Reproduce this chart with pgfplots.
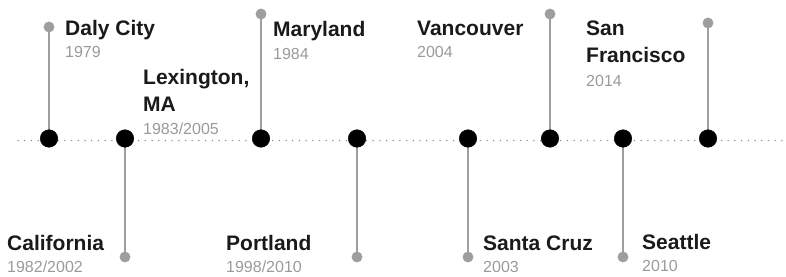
\documentclass[border=0pt]{standalone}
\usepackage{fontspec}
\setmainfont{Liberation Sans}
\usepackage{pgfplots}
\pgfplotsset{compat=1.18}
\definecolor{stemc}{HTML}{9E9E9E}
\definecolor{yrc}{HTML}{9A9A9A}
\definecolor{basec}{HTML}{8480A8}
\definecolor{ttlc}{HTML}{1A1A1A}
\tikzset{
  ttlS/.style={anchor=base west, inner sep=0pt, text=ttlc, font=\bfseries\fontsize{21}{25}\selectfont},
  yrsS/.style={anchor=base west, inner sep=0pt, text=yrc, font=\fontsize{16}{19}\selectfont}}
\begin{document}
\begin{tikzpicture}
\useasboundingbox (0,0) rectangle (786pt,276pt);
\begin{axis}[scale only axis, width=786pt, height=276pt,
  xmin=0, xmax=786, ymin=0, ymax=276, hide axis, clip=false]
% dotted baseline
\addplot[basec, line width=1.5pt, line cap=round, dash pattern=on 0pt off 6.7pt] coordinates {(18,135.5) (786,135.5)};
% stems
\addplot[stemc, line width=2pt] coordinates {(49,137.5) (49,249)};
\addplot[stemc, line width=2pt] coordinates {(125,137.5) (125,19)};
\addplot[stemc, line width=2pt] coordinates {(261,137.5) (261,262)};
\addplot[stemc, line width=2pt] coordinates {(357,137.5) (357,19)};
\addplot[stemc, line width=2pt] coordinates {(468,137.5) (468,19)};
\addplot[stemc, line width=2pt] coordinates {(550,137.5) (550,262)};
\addplot[stemc, line width=2pt] coordinates {(623,137.5) (623,19)};
\addplot[stemc, line width=2pt] coordinates {(708,137.5) (708,253)};
% end dots
\addplot[only marks, mark=*, mark size=5.2pt, color=stemc] coordinates {
(49,249) (125,19) (261,262) (357,19) (468,19) (550,262) (623,19) (708,253)};
% main dots
\addplot[only marks, mark=*, mark size=8.8pt, color=black] coordinates {
(49,137.5) (125,137.5) (261,137.5) (357,137.5) (468,137.5) (550,137.5) (623,137.5) (708,137.5)};
% labels
\node[ttlS] at (axis cs:65,240) {Daly City};
\node[yrsS] at (axis cs:65,218) {1979};
\node[ttlS] at (axis cs:143,191) {Lexington,};
\node[ttlS] at (axis cs:143,164) {MA};
\node[yrsS] at (axis cs:143,141) {1983/2005};
\node[ttlS] at (axis cs:273,239) {Maryland};
\node[yrsS] at (axis cs:273,216) {1984};
\node[ttlS] at (axis cs:417,240) {Vancouver};
\node[yrsS] at (axis cs:417,218) {2004};
\node[ttlS] at (axis cs:586,240) {San};
\node[ttlS] at (axis cs:586,213) {Francisco};
\node[yrsS] at (axis cs:586,189) {2014};
\node[ttlS] at (axis cs:7,26) {California};
\node[yrsS] at (axis cs:7,4) {1982/2002};
\node[ttlS] at (axis cs:226,26) {Portland};
\node[yrsS] at (axis cs:226,4) {1998/2010};
\node[ttlS] at (axis cs:483,26) {Santa Cruz};
\node[yrsS] at (axis cs:483,4) {2003};
\node[ttlS] at (axis cs:642,27) {Seattle};
\node[yrsS] at (axis cs:642,5) {2010};
\end{axis}
\end{tikzpicture}
\end{document}
